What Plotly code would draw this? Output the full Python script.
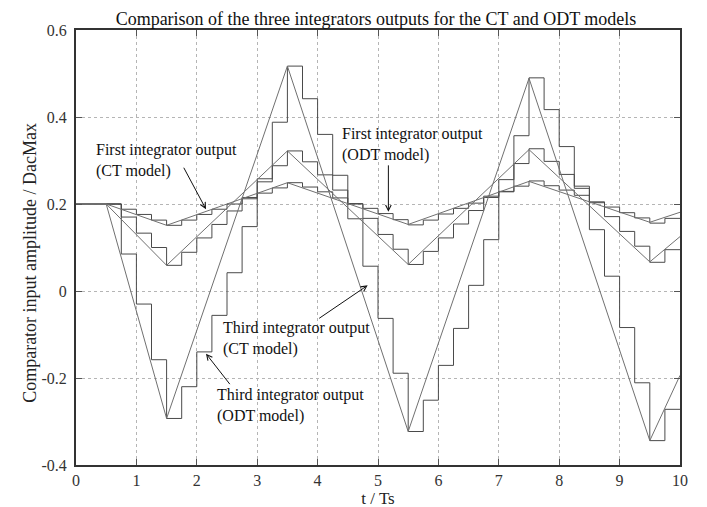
import plotly.graph_objects as go

# ---- data ----
t_ct = [0, 0.5, 1.5, 3.5, 5.5, 7.5, 9.5, 10]
first_ct = [0.2, 0.2, 0.151, 0.249, 0.153, 0.252, 0.158, 0.181]
second_ct = [0.2, 0.2, 0.059, 0.322, 0.061, 0.325, 0.067, 0.125]
third_ct = [0.2, 0.2, -0.293, 0.517, -0.323, 0.489, -0.344, -0.194]

t_odt = [0, 0.5, 0.75, 1.0, 1.25, 1.5, 1.75, 2.0, 2.25, 2.5, 2.75,
         3.0, 3.25, 3.5, 3.75, 4.0, 4.25, 4.5, 4.75, 5.0, 5.25,
         5.5, 5.75, 6.0, 6.25, 6.5, 6.75, 7.0, 7.25, 7.5, 7.75,
         8.0, 8.25, 8.5, 8.75, 9.0, 9.25, 9.5, 9.75, 10]
first_odt = [0.2, 0.2, 0.188, 0.176, 0.163, 0.151, 0.163, 0.176, 0.188, 0.2, 0.212,
             0.225, 0.237, 0.249, 0.239, 0.228, 0.214, 0.2, 0.19, 0.178, 0.164,
             0.152, 0.163, 0.177, 0.19, 0.202, 0.215, 0.229, 0.241, 0.253, 0.242,
             0.232, 0.22, 0.205, 0.193, 0.18, 0.168, 0.156, 0.167, 0.167]
second_odt = [0.2, 0.2, 0.17, 0.133, 0.1, 0.059, 0.089, 0.122, 0.153, 0.184, 0.215,
              0.251, 0.288, 0.322, 0.297, 0.267, 0.232, 0.201, 0.167, 0.13, 0.096,
              0.061, 0.091, 0.122, 0.154, 0.185, 0.218, 0.256, 0.293, 0.327, 0.298,
              0.268, 0.236, 0.203, 0.171, 0.137, 0.103, 0.066, 0.095, 0.095]
third_odt = [0.2, 0.2, 0.085, -0.03, -0.158, -0.293, -0.22, -0.14, -0.056, 0.042, 0.148,
             0.258, 0.388, 0.517, 0.442, 0.36, 0.266, 0.166, 0.057, -0.063, -0.189,
             -0.323, -0.251, -0.171, -0.086, 0.013, 0.118, 0.228, 0.357, 0.49, 0.417,
             0.332, 0.241, 0.141, 0.034, -0.084, -0.211, -0.344, -0.272, -0.272]

x_ticks = [0, 1, 2, 3, 4, 5, 6, 7, 8, 9, 10]
y_ticks = [-0.4, -0.2, 0, 0.2, 0.4, 0.6]
y_tick_text = ["-0.4", "-0.2", "0", "0.2", "0.4", "0.6"]

title_text = "Comparison of the three integrators outputs for the CT and ODT models"
x_title = "t / Ts"
y_title = "Comparator input amplitude / DacMax"

FONT = "Liberation Serif, Times New Roman, serif"
ODT_COLOR = "#4a4a4a"
CT_COLOR = "#707070"

fig = go.Figure()
for name, vals in [("First ODT", first_odt), ("Second ODT", second_odt), ("Third ODT", third_odt)]:
    fig.add_trace(go.Scatter(x=t_odt, y=vals, mode="lines", name=name,
                             line=dict(color=ODT_COLOR, width=1, shape="hv")))
for name, vals in [("First CT", first_ct), ("Second CT", second_ct), ("Third CT", third_ct)]:
    fig.add_trace(go.Scatter(x=t_ct, y=vals, mode="lines", name=name,
                             line=dict(color=CT_COLOR, width=1)))

ann_font = dict(family=FONT, size=16, color="#111111")
labels = [
    # text, text-x, text-y, tip-x, tip-y, ax, ay
    ("First integrator output<br>(CT model)", 0.30, 0.300, 2.152, 0.188, -23, -43),
    ("First integrator output<br>(ODT model)", 4.377, 0.336, 5.172, 0.182, 0, -48),
    ("Third integrator output<br>(CT model)", 2.395, -0.109, 4.829, 0.013, -50, 34),
    ("Third integrator output<br>(ODT model)", 2.296, -0.263, 2.152, -0.144, 25, 32),
]
for text, tx, ty, px, py, ax, ay in labels:
    fig.add_annotation(x=tx, y=ty, xref="x", yref="y", text=text, showarrow=False,
                       xanchor="left", yanchor="middle", align="left", font=ann_font)
    fig.add_annotation(x=px, y=py, xref="x", yref="y", text="", showarrow=True,
                       ax=ax, ay=ay, arrowhead=5, arrowsize=1.1, arrowwidth=1,
                       arrowcolor="#111111", standoff=0)

fig.add_annotation(text=y_title, x=-46 / 604, y=(461 - 257) / 439, xref="paper", yref="paper",
                   showarrow=False, textangle=-90, font=dict(family=FONT, size=18, color="#222"),
                   xanchor="center", yanchor="middle")

axis_common = dict(showgrid=True, gridcolor="#b5b5b5", griddash="dot", gridwidth=1,
                   showline=True, linecolor="#333333", linewidth=2, mirror="ticks",
                   ticks="inside", ticklen=6, tickcolor="#555555", zeroline=False,
                   tickfont=dict(family=FONT, size=16, color="#333333"))

fig.update_layout(
    width=707, height=507,
    margin=dict(l=68, r=35, t=22, b=46),
    paper_bgcolor="white", plot_bgcolor="white",
    showlegend=False,
    title=dict(text=title_text, x=368 / 707, xanchor="center", xref="container",
               y=1 - 11 / 507, yanchor="middle", yref="container",
               font=dict(family=FONT, size=18, color="#111111")),
    xaxis=dict(range=[0, 10], tickvals=x_ticks,
               title=dict(text=x_title, standoff=2,
                          font=dict(family=FONT, size=17, color="#222")),
               **axis_common),
    yaxis=dict(range=[-0.4, 0.6], tickvals=y_ticks, ticktext=y_tick_text,
               ticklabelstandoff=4, **axis_common),
)

fig.write_html("out.html")
